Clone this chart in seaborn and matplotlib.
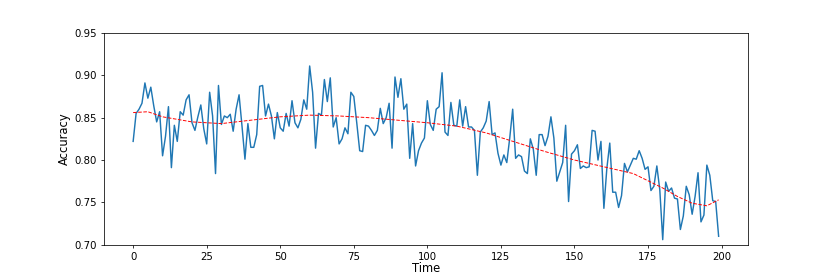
import numpy as np
import pandas as pd
import matplotlib
matplotlib.use("Agg")
import matplotlib.pyplot as plt
import seaborn as sns

# accuracy per time step
accuracy = [
    0.822, 0.855, 0.860, 0.867, 0.891, 0.873, 0.886, 0.864, 0.845, 0.857,
    0.805, 0.828, 0.863, 0.791, 0.841, 0.822, 0.857, 0.853, 0.871, 0.877,
    0.844, 0.835, 0.851, 0.865, 0.837, 0.819, 0.880, 0.852, 0.784, 0.888,
    0.842, 0.852, 0.850, 0.854, 0.834, 0.860, 0.877, 0.840, 0.801, 0.843,
    0.815, 0.815, 0.830, 0.887, 0.888, 0.852, 0.866, 0.852, 0.825, 0.856,
    0.838, 0.834, 0.855, 0.840, 0.870, 0.844, 0.838, 0.848, 0.871, 0.860,
    0.911, 0.880, 0.814, 0.855, 0.853, 0.895, 0.869, 0.897, 0.839, 0.850,
    0.819, 0.825, 0.838, 0.831, 0.880, 0.875, 0.844, 0.811, 0.810, 0.841,
    0.840, 0.835, 0.829, 0.835, 0.861, 0.843, 0.850, 0.867, 0.814, 0.898,
    0.874, 0.896, 0.860, 0.866, 0.802, 0.843, 0.793, 0.811, 0.820, 0.826,
    0.870, 0.842, 0.835, 0.860, 0.863, 0.903, 0.833, 0.829, 0.868, 0.841,
    0.840, 0.871, 0.840, 0.863, 0.839, 0.839, 0.835, 0.782, 0.833, 0.838,
    0.846, 0.869, 0.830, 0.832, 0.808, 0.794, 0.806, 0.797, 0.826, 0.860,
    0.802, 0.806, 0.804, 0.787, 0.784, 0.825, 0.813, 0.782, 0.830, 0.830,
    0.817, 0.828, 0.851, 0.826, 0.775, 0.786, 0.797, 0.841, 0.751, 0.807,
    0.811, 0.818, 0.790, 0.793, 0.791, 0.792, 0.835, 0.834, 0.800, 0.822,
    0.743, 0.790, 0.820, 0.762, 0.762, 0.744, 0.758, 0.796, 0.786, 0.794,
    0.802, 0.801, 0.811, 0.802, 0.789, 0.792, 0.764, 0.769, 0.793, 0.765,
    0.706, 0.774, 0.763, 0.767, 0.755, 0.754, 0.718, 0.734, 0.769, 0.759,
    0.736, 0.757, 0.785, 0.727, 0.735, 0.794, 0.782, 0.752, 0.751, 0.710,
]
time = list(range(len(accuracy)))

# smoothed trend (red dashed)
trend_time = [0, 5, 10, 20, 30, 40, 50, 60, 70, 80, 90, 100, 110, 120,
              130, 140, 150, 160, 170, 180, 185, 190, 195, 199]
trend_acc = [0.856, 0.857, 0.851, 0.845, 0.843, 0.847, 0.851, 0.853, 0.852,
             0.850, 0.847, 0.844, 0.840, 0.832, 0.821, 0.810, 0.800, 0.792,
             0.784, 0.767, 0.757, 0.749, 0.746, 0.753]

df = pd.DataFrame({"Time": time, "Accuracy": accuracy})
df_trend = pd.DataFrame({"Time": trend_time, "Accuracy": trend_acc})

fig = plt.figure(figsize=(12, 3.972), dpi=69.25)
ax = fig.add_subplot(111)
sns.lineplot(data=df, x="Time", y="Accuracy", color="#1f77b4", linewidth=1.5, ax=ax)
sns.lineplot(data=df_trend, x="Time", y="Accuracy", color="red",
             linestyle="--", linewidth=1.0, ax=ax)

ax.set_ylim(0.70, 0.95)
ax.set_yticks([0.70, 0.75, 0.80, 0.85, 0.90, 0.95])
ax.set_xticks([0, 25, 50, 75, 100, 125, 150, 175, 200])
ax.tick_params(labelsize=10.5)
ax.set_xlabel("Time", fontsize=12, labelpad=1)
ax.set_ylabel("Accuracy", fontsize=12)

fig.savefig("out.png", dpi=69.25)
